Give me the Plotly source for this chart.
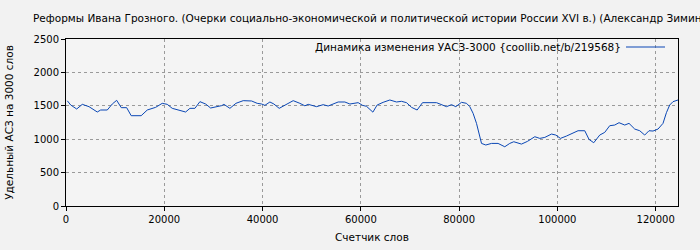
import plotly.graph_objects as go

words = [264, 956, 2176, 3315, 4678, 6366, 7057, 8400, 9416, 10311, 11247, 12345, 13266, 15300,
         16534, 18243, 19586, 20602, 21620, 22982, 24344, 25219, 26235, 27252, 28411, 29428, 30770,
         31700, 32135, 33355, 34576, 36063, 37771, 38910, 39805, 40477, 41494, 42307, 43385, 44891,
         46233, 47596, 48613, 49284, 50993, 52335, 53352, 55386, 56749, 57766, 58437, 59454, 60349,
         61163, 62450, 63319, 64539, 65902, 67264, 68281, 69298, 70316, 71455, 72553, 75401, 76621,
         77435, 78452, 79326, 80486, 81503, 82174, 82845, 83537, 84208, 84554, 85429, 86588, 87930,
         89293, 90310, 91124, 92690, 93900, 95404, 96421, 97438, 98801, 99676, 100622, 101843,
         103185, 104203, 105565, 106440, 107395, 108616, 109633, 110650, 111667, 112542, 113701,
         114575, 115735, 116752, 117769, 118644, 119458, 120475, 121492, 122184, 122854, 123526,
         124543]
uasz = [1575, 1512, 1452, 1522, 1487, 1407, 1437, 1437, 1527, 1582, 1472, 1472, 1352, 1352,
        1437, 1477, 1537, 1522, 1462, 1437, 1407, 1462, 1462, 1562, 1527, 1467, 1487,
        1503, 1522, 1462, 1537, 1577, 1572, 1537, 1527, 1507, 1557, 1527, 1462, 1527,
        1577, 1537, 1500, 1522, 1487, 1517, 1497, 1557, 1557, 1527, 1537, 1547, 1507,
        1492, 1405, 1512, 1552, 1587, 1557, 1567, 1547, 1477, 1437, 1547, 1547, 1512,
        1487, 1517, 1487, 1552, 1537, 1487, 1387, 1237, 1062, 937, 913, 937, 937,
        887, 937, 962, 927, 967, 1037, 1012, 1027, 1077, 1062, 1012, 1047,
        1087, 1127, 1127, 997, 947, 1062, 1102, 1202, 1212, 1247, 1212,
        1237, 1152, 1127, 1062, 1127, 1122, 1152, 1237, 1397, 1512, 1562,
        1587]

title_text = "Реформы Ивана Грозного. (Очерки социально-экономической и политической истории России XVI в.) (Александр Зимин)"
series_name = "Динамика изменения УАСЗ-3000 {coollib.net/b/219568}"
x_title = "Счетчик слов"
y_title = "Удельный АСЗ на 3000 слов"
x_ticks = [0, 20000, 40000, 60000, 80000, 100000, 120000]
y_ticks = [0, 500, 1000, 1500, 2000, 2500]
line_color = "#0a47b5"
font_family = "DejaVu Sans"

fig = go.Figure()
fig.add_trace(go.Scatter(x=words, y=uasz, mode="lines", name=series_name,
                         line=dict(color=line_color, width=1), showlegend=False))

axis_common = dict(showline=True, linecolor="black", linewidth=1, mirror=True,
                   ticks="outside", ticklen=4, tickcolor="black", automargin=False,
                   showgrid=True, gridcolor="#9a9a9a", griddash="3px,3px", gridwidth=1,
                   zeroline=False, tickfont=dict(size=10, color="black", family=font_family))

fig.update_layout(
    width=700, height=250,
    margin=dict(l=66, r=22, t=39, b=44),
    paper_bgcolor="#f2f2f2", plot_bgcolor="#f4f4f4",
    font=dict(family=font_family, size=10, color="black"),
    title=dict(text=title_text, x=33/700, xanchor="left", xref="container",
               y=1 - 18/250, yanchor="middle", font=dict(size=10.5, family=font_family)),
    xaxis=dict(range=[0, 124543], tickvals=x_ticks, ticktext=[str(v) for v in x_ticks],
               title=dict(text=x_title, standoff=9, font=dict(size=10.5)), **axis_common),
    yaxis=dict(range=[0, 2500], tickvals=y_ticks,
               title=dict(text=y_title, standoff=17, font=dict(size=10.5)), **axis_common),
)

# legend drawn as text + sample line (sample on the right, like the reference)
fig.add_annotation(text=series_name, xref="paper", yref="paper", x=(623 - 66) / 612, y=1 - 8 / 167,
                   xanchor="right", yanchor="middle", showarrow=False,
                   font=dict(size=10.5, family=font_family, color="black"))
fig.add_shape(type="line", xref="paper", yref="paper",
              x0=(626 - 66) / 612, x1=(665 - 66) / 612, y0=1 - 8 / 167, y1=1 - 8 / 167,
              line=dict(color=line_color, width=1))

fig.write_html("out.html")
